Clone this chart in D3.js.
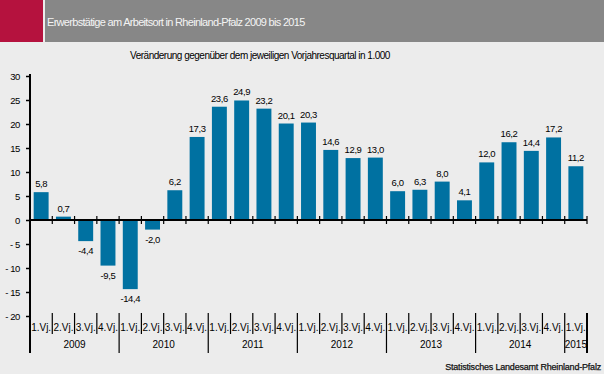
<!DOCTYPE html>
<html>
<head>
<meta charset="utf-8">
<script src="https://cdn.jsdelivr.net/npm/d3@7"></script>
<style>
  body { margin: 0; background: #ececec; }
  svg { display: block; font-family: "Liberation Sans", Arial, sans-serif; }
</style>
</head>
<body>
<div id="chart"></div>
<script>
// Data
const years = ["2009", "2010", "2011", "2012", "2013", "2014", "2015"];
const quarters = ["1.Vj.", "2.Vj.", "3.Vj.", "4.Vj."];
const values = [5.8, 0.7, -4.4, -9.5, -14.4, -2.0, 6.2, 17.3, 23.6, 24.9, 23.2, 20.1,
  20.3, 14.6, 12.9, 13.0, 6.0, 6.3, 8.0, 4.1, 12.0, 16.2, 14.4, 17.2, 11.2];
const yTicks = [30, 25, 20, 15, 10, 5, 0, -5, -10, -15, -20];

const WIDTH = 604;
const HEIGHT = 374;

const data = values.map((v, i) => ({
  id: i,
  year: years[Math.floor(i / 4)],
  quarter: quarters[i % 4],
  value: v
}));

const svg = d3
  .select("#chart")
  .append("svg")
  .attr("width", WIDTH)
  .attr("height", HEIGHT);

svg.append("rect").attr("width", WIDTH).attr("height", HEIGHT).attr("fill", "#ececec");

// header
svg.append("rect").attr("x", 0).attr("y", 0).attr("width", 43).attr("height", 42).attr("fill", "#b5123e");
svg.append("rect").attr("x", 45).attr("y", 0).attr("width", WIDTH - 45).attr("height", 42).attr("fill", "#878787");
svg.append("text")
  .attr("x", 47).attr("y", 26)
  .attr("fill", "#f4f4f4")
  .style("font-size", "11px")
  .style("letter-spacing", "-0.7px")
  .text("Erwerbstätige am Arbeitsort in Rheinland-Pfalz 2009 bis 2015");

svg.append("text")
  .attr("x", 260).attr("y", 59)
  .attr("text-anchor", "middle")
  .style("font-size", "10px")
  .style("letter-spacing", "-0.5px")
  .text("Veränderung gegenüber dem jeweiligen Vorjahresquartal in 1.000");

const left = 30, right = 587;

const x = d3.scaleBand()
  .domain(data.map(d => d.id))
  .range([left, right])
  .paddingInner(0.33)
  .paddingOuter(0.165);

const y = d3.scaleLinear().domain([-20, 30]).range([316, 76]);

// y axis
const yAxis = svg.append("g")
  .attr("transform", `translate(${left},0)`)
  .call(d3.axisLeft(y).tickValues(yTicks).tickSize(4)
    .tickFormat(d => d < 0 ? "- " + Math.abs(d) : d));
yAxis.select(".domain").remove();
yAxis.selectAll("line").attr("stroke", "#000").attr("stroke-width", 1.5);
yAxis.selectAll("text").style("font-size", "9.5px").style("letter-spacing", "-0.4px")
  .attr("x", -10).attr("fill", "#000")
  .style("font-family", "Liberation Sans, Arial, sans-serif");

// bars
svg.selectAll("rect.bar")
  .data(data)
  .join("rect")
  .attr("class", "bar")
  .attr("x", d => x(d.id))
  .attr("y", d => y(Math.max(0, d.value)))
  .attr("width", x.bandwidth())
  .attr("height", d => Math.abs(y(d.value) - y(0)))
  .attr("fill", "#0071a1");

// value labels
svg.selectAll("text.val")
  .data(data)
  .join("text")
  .attr("class", "val")
  .attr("x", d => x(d.id) + x.bandwidth() / 2)
  .attr("y", d => d.value >= 0 ? y(d.value) - 5 : y(d.value) + 13)
  .attr("text-anchor", "middle")
  .style("font-size", "9.5px")
  .style("letter-spacing", "-0.4px")
  .text(d => d3.format(".1f")(d.value).replace(".", ",").replace("−", "-"));

const step = x.step();
const edge = i => left + i * step;

// zero line with ticks
svg.append("line")
  .attr("x1", left).attr("x2", right)
  .attr("y1", y(0)).attr("y2", y(0))
  .attr("stroke", "#000").attr("stroke-width", 2);
svg.selectAll("line.zt")
  .data(d3.range(1, values.length + 1))
  .join("line")
  .attr("class", "zt")
  .attr("x1", edge).attr("x2", edge)
  .attr("y1", y(0) - 4).attr("y2", y(0) + 4)
  .attr("stroke", "#000").attr("stroke-width", 1.2);

// y axis line
svg.append("line")
  .attr("x1", left).attr("x2", left)
  .attr("y1", 74).attr("y2", 353)
  .attr("stroke", "#000").attr("stroke-width", 2);

// quarter labels
svg.selectAll("text.q")
  .data(data)
  .join("text")
  .attr("class", "q")
  .attr("x", d => x(d.id) + x.bandwidth() / 2)
  .attr("y", 331)
  .attr("text-anchor", "middle")
  .style("font-size", "10px")
  .text(d => d.quarter);

// separators
svg.selectAll("line.sep")
  .data(d3.range(1, values.length + 1))
  .join("line")
  .attr("class", "sep")
  .attr("x1", edge).attr("x2", edge)
  .attr("y1", 313)
  .attr("y2", i => (i % 4 === 0 || i === values.length) ? 353 : 334)
  .attr("stroke", "#000")
  .attr("stroke-width", i => i === values.length ? 2 : 1.2);

// year labels
svg.selectAll("text.yr")
  .data(years)
  .join("text")
  .attr("class", "yr")
  .attr("x", (d, i) => {
    const n = Math.min(4, values.length - i * 4);
    return edge(i * 4) + n * step / 2;
  })
  .attr("y", 348)
  .attr("text-anchor", "middle")
  .style("font-size", "10px")
  .text(d => d);

// source
svg.append("text")
  .attr("x", 601).attr("y", 370)
  .attr("text-anchor", "end")
  .style("font-size", "9px")
  .style("letter-spacing", "-0.2px")
  .attr("fill", "#111")
  .attr("stroke", "#111")
  .attr("stroke-width", 0.25)
  .text("Statistisches Landesamt Rheinland-Pfalz");
</script>
</body>
</html>
